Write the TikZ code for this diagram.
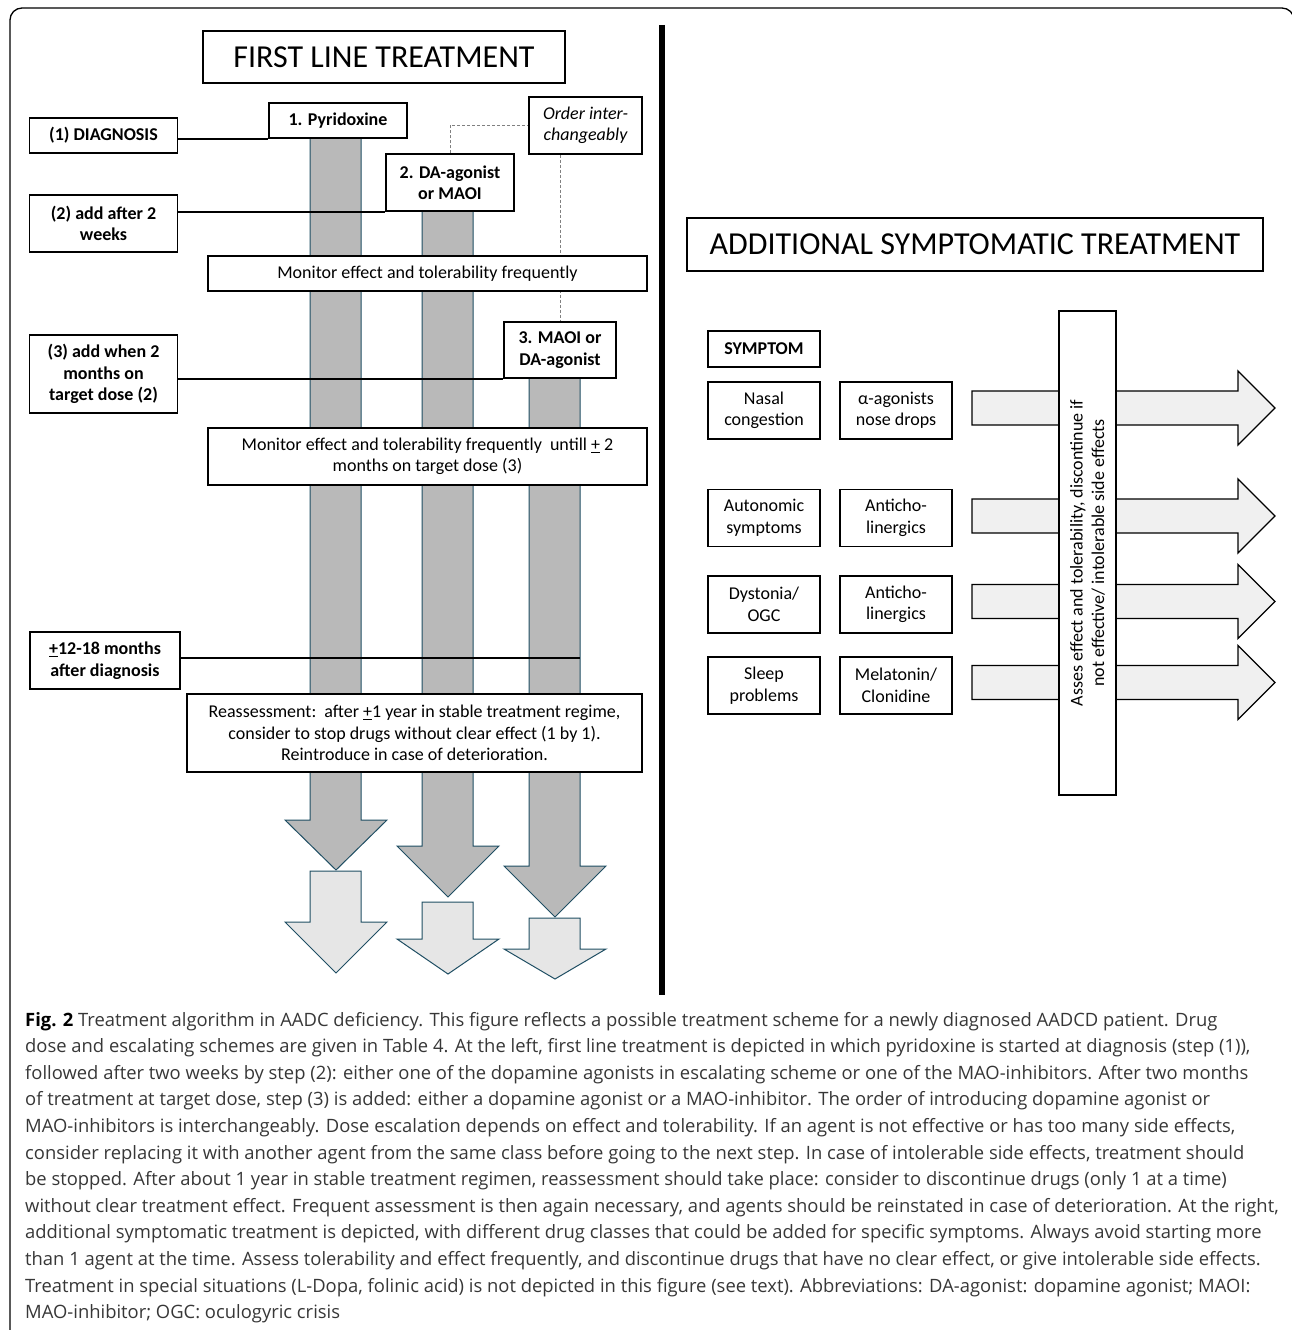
\documentclass[tikz,border=0pt]{standalone}
\usepackage{fontspec}
\setmainfont{Carlito}
\newfontfamily\capfont{Open Sans}
\usetikzlibrary{backgrounds}
\definecolor{barfill}{RGB}{185,185,185}
\definecolor{baredge}{RGB}{31,78,99}
\definecolor{lightfill}{RGB}{230,230,230}
\definecolor{arrfill}{RGB}{240,240,240}
\definecolor{dashgray}{RGB}{128,128,128}
\definecolor{captext}{RGB}{55,55,55}
\begin{document}
\begin{tikzpicture}[x=1pt,y=-1pt,
  box/.style={draw=black, line width=1.3pt, fill=white, inner sep=0pt, align=center,
    font=\fontsize{18}{21.5}\selectfont},
  bbox/.style={box, font=\fontsize{18}{21.5}\selectfont\bfseries},
  titlebox/.style={box, font=\fontsize{32}{38}\selectfont},
  darkbar/.style={fill=barfill, draw=baredge, line width=1pt},
  lightbar/.style={fill=lightfill, draw=baredge, line width=1pt},
  rarrow/.style={fill=arrfill, draw=black, line width=1.3pt},
  link/.style={draw=black, line width=1.9pt},
  dlink/.style={draw=dashgray, line width=1pt, dash pattern=on 3pt off 2pt},
  capline/.style={anchor=base west, inner sep=0pt, text=captext, font=\capfont\fontsize{18.4}{20}\selectfont}
]
\useasboundingbox (0,0) rectangle (1292,1330);
\clip (0,0) rectangle (1292,1330);

% frame
\draw[line width=1.3pt, rounded corners=12pt] (10,1345) -- (10,8) -- (1294,8) -- (1294,1345);
% divider
\draw[line width=5.5pt] (662,25) -- (662,995);

% ---------- left panel nodes
\node[titlebox, minimum width=362, minimum height=52] (title1) at (384,57) {FIRST LINE TREATMENT};
\node[bbox, minimum width=138, minimum height=35] (pyr) at (338,120.5) {1. Pyridoxine};
\node[bbox, minimum width=148, minimum height=35] (diag) at (103.5,135.5) {(1) DIAGNOSIS};
\node[bbox, minimum width=128, minimum height=57] (box2) at (450,182.5) {2. DA-agonist\\or MAOI};
\node[bbox, minimum width=148, minimum height=57] (add2) at (103.5,223.5) {(2) add after 2\\weeks};
\node[box, minimum width=113, minimum height=57, font=\fontsize{18}{21.5}\selectfont\itshape] (order) at (585.5,125.5) {Order inter-\\changeably};
\node[box, minimum width=439, minimum height=35] (mon1) at (427.5,273.5) {Monitor effect and tolerability frequently};
\node[bbox, minimum width=112, minimum height=56] (box3) at (560,350) {3. MAOI or\\DA-agonist};
\node[bbox, minimum width=148, minimum height=78] (add3) at (103.5,374) {(3) add when 2\\months on\\target dose (2)};
\node[box, minimum width=439, minimum height=57] (mon2) at (427.5,456.5) {Monitor effect and tolerability frequently\ \ untill \underline{+} 2\\months on target dose (3)};
\node[bbox, minimum width=150, minimum height=57] (months) at (105,660.5) {\underline{+}12-18 months\\after diagnosis};
\node[box, minimum width=455, minimum height=78] (reass) at (414.5,733) {Reassessment:\ \ after \underline{+}1 year in stable treatment regime,\\consider to stop drugs without clear effect (1 by 1).\\Reintroduce in case of deterioration.};
\coordinate (bar3r) at (580,658);

% ---------- right panel nodes
\node[titlebox, minimum width=576, minimum height=53] (title2) at (975,244.5) {ADDITIONAL SYMPTOMATIC TREATMENT};
\node[bbox, minimum width=112, minimum height=36] (symptom) at (764,349) {SYMPTOM};
\node[box, minimum width=112, minimum height=57] (s1) at (764,410.5) {Nasal\\congestion};
\node[box, minimum width=112, minimum height=57] (t1) at (896,410.5) {α-agonists\\nose drops};
\node[box, minimum width=112, minimum height=57] (s2) at (764,518) {Autonomic\\symptoms};
\node[box, minimum width=112, minimum height=57] (t2) at (896,518) {Anticho-\\linergics};
\node[box, minimum width=112, minimum height=57] (s3) at (764,604.5) {Dystonia/\\OGC};
\node[box, minimum width=112, minimum height=57] (t3) at (896,604.5) {Anticho-\\linergics};
\node[box, minimum width=112, minimum height=57] (s4) at (764,685.5) {Sleep\\problems};
\node[box, minimum width=112, minimum height=57] (t4) at (896,685.5) {Melatonin/\\Clonidine};
\node[box, minimum width=484, minimum height=57, rotate=90] (assess) at (1087.5,553) {Asses effect and tolerability, discontinue if\\not effective/ intolerable side effects};

% ---------- background shapes
\begin{scope}[on background layer]
  \draw[darkbar] (310,138) -- (310,820) -- (285,820) -- (336,870) -- (387,820) -- (361,820) -- (361,138) -- cycle;
  \draw[darkbar] (422,211) -- (422,846) -- (397,846) -- (448,897) -- (499,846) -- (473,846) -- (473,211) -- cycle;
  \draw[darkbar] (529,378) -- (529,866) -- (504,866) -- (555,917) -- (606,866) -- (580,866) -- (580,378) -- cycle;
  \draw[lightbar] (310,871) -- (310,922) -- (285,922) -- (336,973) -- (387,922) -- (361,922) -- (361,871) -- cycle;
  \draw[lightbar] (422,902) -- (422,939) -- (397,939) -- (448,974) -- (499,939) -- (473,939) -- (473,902) -- cycle;
  \draw[lightbar] (529,918) -- (529,949) -- (504,949) -- (555,979) -- (606,949) -- (580,949) -- (580,918) -- cycle;
  \draw[dlink] (box2.north) -- (box2.north |- order.west) -- (order.west);
  \draw[dlink] (box3.north |- order.south) -- (box3.north);
  \foreach \c in {408,516,601.5,682.5}{
    \draw[rarrow] (972,\c-17) -- (1238,\c-17) -- (1238,\c-37) -- (1275,\c) -- (1238,\c+37) -- (1238,\c+17) -- (972,\c+17) -- cycle;
  }
\end{scope}

% ---------- connectors
\draw[link] (diag.east |- pyr.south) -- (pyr.south west);
\draw[link] (add2.east |- box2.south) -- (box2.south west);
\draw[link] (add3.east |- box3.south) -- (box3.south west);
\draw[link] (months.east |- bar3r) -- (bar3r);

% ---------- caption
\node[capline] (c1) at (25,1026) {\textcolor{black}{\textbf{Fig. 2}} Treatment algorithm in AADC deficiency. This figure reflects a possible treatment scheme for a newly diagnosed AADCD patient. Drug};
\node[capline] (c2) at (25,1052.6) {dose and escalating schemes are given in Table 4. At the left, first line treatment is depicted in which pyridoxine is started at diagnosis (step (1)),};
\node[capline] (c3) at (25,1079.2) {followed after two weeks by step (2): either one of the dopamine agonists in escalating scheme or one of the MAO-inhibitors. After two months};
\node[capline] (c4) at (25,1105.8) {of treatment at target dose, step (3) is added: either a dopamine agonist or a MAO-inhibitor. The order of introducing dopamine agonist or};
\node[capline] (c5) at (25,1132.4) {MAO-inhibitors is interchangeably. Dose escalation depends on effect and tolerability. If an agent is not effective or has too many side effects,};
\node[capline] (c6) at (25,1159) {consider replacing it with another agent from the same class before going to the next step. In case of intolerable side effects, treatment should};
\node[capline] (c7) at (25,1185.6) {be stopped. After about 1 year in stable treatment regimen, reassessment should take place: consider to discontinue drugs (only 1 at a time)};
\node[capline] (c8) at (25,1212.2) {without clear treatment effect. Frequent assessment is then again necessary, and agents should be reinstated in case of deterioration. At the right,};
\node[capline] (c9) at (25,1238.8) {additional symptomatic treatment is depicted, with different drug classes that could be added for specific symptoms. Always avoid starting more};
\node[capline] (c10) at (25,1265.4) {than 1 agent at the time. Assess tolerability and effect frequently, and discontinue drugs that have no clear effect, or give intolerable side effects.};
\node[capline] (c11) at (25,1292) {Treatment in special situations (L-Dopa, folinic acid) is not depicted in this figure (see text). Abbreviations: DA-agonist: dopamine agonist; MAOI:};
\node[capline] (c12) at (25,1318.6) {MAO-inhibitor; OGC: oculogyric crisis};
\end{tikzpicture}
\end{document}
